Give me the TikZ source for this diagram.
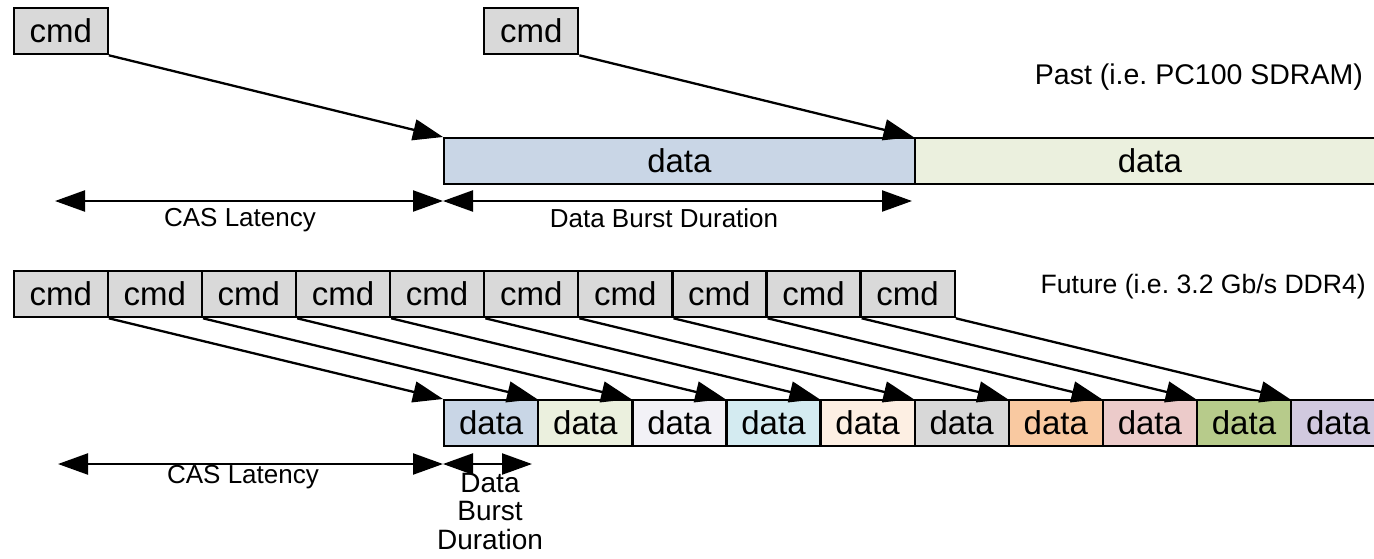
\documentclass[tikz,border=0pt]{standalone}
\usepackage{fontspec}
\setmainfont{Liberation Sans}
\usetikzlibrary{arrows.meta}
\frenchspacing

\definecolor{cmdfill}{HTML}{D9D9D9}
\definecolor{dA}{HTML}{C9D6E6}
\definecolor{dB}{HTML}{EBF0DE}
\definecolor{dC}{HTML}{F2F1F6}
\definecolor{dD}{HTML}{D4EBF1}
\definecolor{dE}{HTML}{FDEFE3}
\definecolor{dF}{HTML}{D8D8D8}
\definecolor{dG}{HTML}{F9C9A1}
\definecolor{dH}{HTML}{ECCBCA}
\definecolor{dI}{HTML}{B7CB8B}
\definecolor{dJ}{HTML}{D1C9DF}

\begin{document}
\begin{tikzpicture}[x=1pt,y=-1pt,
  box/.style={draw=black, line width=2.3pt, inner sep=0pt, anchor=north west,
    minimum height=46pt, font=\fontsize{33}{38}\selectfont},
  cmdbox/.style={box, fill=cmdfill, minimum width=94.1pt},
  databox/.style={box, minimum width=94.1pt},
  label/.style={inner sep=0pt, font=\fontsize{26}{28.5}\selectfont},
  conn/.style={line width=2.3pt, -{Triangle[length=30pt,width=21pt]}},
  span/.style={line width=2.3pt, {Triangle[length=30pt,width=21pt]}-{Triangle[length=30pt,width=21pt]}}
]
\useasboundingbox (0,0) rectangle (1374,558);

% ---- Past: one command per long burst ----
\node[cmdbox] (pc0) at (12.5,7) {cmd};
\node[cmdbox] (pc5) at (483,7) {cmd};
\node[box, fill=dA, minimum width=470.5pt] (pd0) at (443,137) {data};
\node[box, fill=dB, minimum width=470.5pt] (pd1) at (913.5,137) {data};
\draw[conn] (pc0.south east) -- (pd0.north west);
\draw[conn] (pc5.south east) -- (pd1.north west);

\node[label, anchor=east, font=\fontsize{28.5}{30}\selectfont] (past) at (1363,77) {Past (i.e. PC100 SDRAM)};

\coordinate (pcasL) at (55,201);
\coordinate (pcasR) at (443,201);
\coordinate (pburR) at (912,201);
\draw[span] (pcasL) -- (pcasR);
\draw[span] (pcasR) -- (pburR);
\node[label] (pcas) at (240,220) {CAS Latency};
\node[label] (pbur) at (664,218) {Data Burst Duration};

% ---- Future: back-to-back commands, short bursts ----
\foreach \i/\c in {0/dA,1/dB,2/dC,3/dD,4/dE,5/dF,6/dG,7/dH,8/dI,9/dJ}{
  \node[cmdbox] (fc\i) at ({12.5+\i*94.1},270) {cmd};
  \node[databox, fill=\c] (fd\i) at ({443+\i*94.1},399) {data};
  \draw[conn] (fc\i.south east) -- (fd\i.north west);
}

\node[label, anchor=east, font=\fontsize{26.6}{30}\selectfont] (future) at (1366,287) {Future (i.e. 3.2 Gb/s DDR4)};

\coordinate (fcasL) at (58,464);
\coordinate (fcasR) at (443,464);
\coordinate (fburR) at (532,464);
\draw[span] (fcasL) -- (fcasR);
\draw[span] (fcasR) -- (fburR);
\node[label] (fcas) at (243,477) {CAS Latency};
\node[label, align=center, font=\fontsize{28}{28.5}\selectfont] (fbur) at (490,511) {Data\\Burst\\Duration};
\end{tikzpicture}
\end{document}
